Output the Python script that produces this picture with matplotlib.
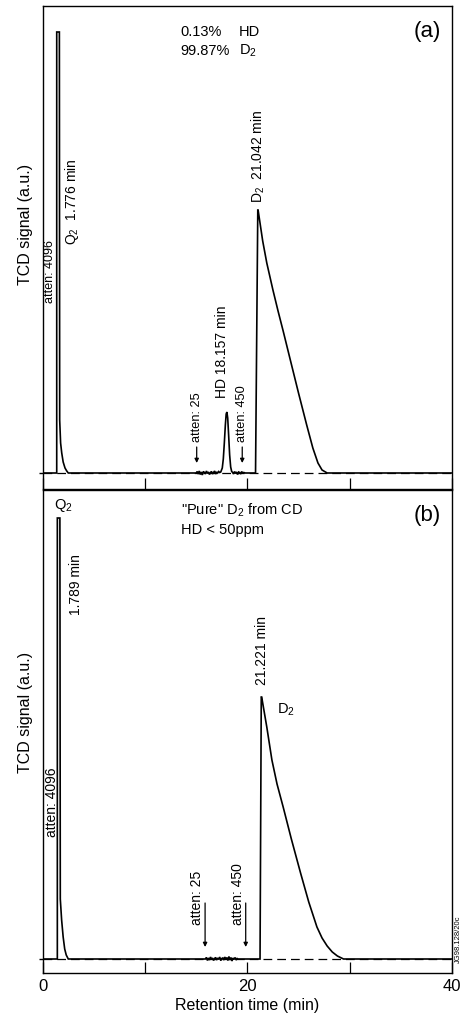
import matplotlib
matplotlib.use("Agg")
import matplotlib.pyplot as plt
import numpy as np

plt.rcParams['font.family'] = ['Liberation Sans', 'DejaVu Sans']
plt.rcParams['mathtext.fontset'] = 'custom'
plt.rcParams['mathtext.rm'] = 'Liberation Sans'
plt.rcParams['mathtext.it'] = 'Liberation Sans:italic'

# ---------------- data ----------------
# Panel (a): chromatogram trace, retention time (min) and TCD signal (a.u.)
A_Q2_T = [0.0, 1.37, 1.37, 1.63, 1.66, 1.75, 1.86, 2.00, 2.18, 2.35, 2.50]
A_Q2_S = [0.0, 0.0, 441, 441, 53, 30, 20, 11, 5, 2, 0.0]
A_NOISE1_T = [15.0, 15.1, 15.2, 15.3, 15.4, 15.5, 15.6, 15.7, 15.8, 15.9, 16.0, 16.1,
              16.2, 16.3, 16.4, 16.5, 16.6, 16.7, 16.8, 16.9, 17.0, 17.1, 17.2, 17.3]
A_NOISE1_S = [0.0, 1.5, -1.0, 2.0, -1.5, 1.0, -2.0, 1.5, 0.5, -1.0, 2.0, -0.5,
              1.0, -1.5, 0.5, 1.5, -1.0, 0.5, 2.0, -1.0, 1.0, 0.0, 1.5, 0.5]
A_HD_T = [17.40, 17.55, 17.65, 17.75, 17.85, 17.93, 18.00, 18.08, 18.17, 18.27, 18.37, 18.47, 18.57]
A_HD_S = [1.0, 5.0, 14.0, 30.0, 48.0, 59.0, 61.0, 55.0, 38.0, 18.0, 6.0, 1.5, 0.5]
A_NOISE2_T = [18.65, 18.75, 18.85, 18.95, 19.05, 19.15, 19.25, 19.35, 19.45, 19.55, 19.65, 19.8]
A_NOISE2_S = [-1.0, 1.5, -0.5, 1.0, -1.5, 1.0, 0.5, -1.0, 1.5, -0.5, 0.5, 0.0]
A_D2_T = [20.80, 21.02, 21.05, 21.50, 21.90, 22.50, 23.00, 23.50, 24.20, 25.00,
          25.80, 26.40, 26.90, 27.30, 27.80, 40.0]
A_D2_S = [0.0, 263, 263, 232, 210, 183, 162, 142, 113, 80,
          48, 25, 10, 3, 0.0, 0.0]

# Panel (b)
B_Q2_T = [0.0, 1.43, 1.43, 1.68, 1.72, 1.85, 2.00, 2.15, 2.30, 2.50]
B_Q2_S = [0.0, 0.0, 441, 441, 60, 39, 22, 10, 4, 0.0]
B_NOISE_T = [15.9, 16.0, 16.1, 16.2, 16.3, 16.4, 16.5, 16.6, 16.7, 16.8, 16.9, 17.0,
             17.1, 17.2, 17.3, 17.4, 17.5, 17.6, 17.7, 17.8, 17.9, 18.0, 18.1, 18.2,
             18.3, 18.4, 18.5, 18.6, 18.7, 18.8, 18.9, 19.0, 19.1]
B_NOISE_S = [0.0, 1.5, -1.5, 1.0, -1.0, 2.0, -0.5, 1.0, -1.5, 0.5, 1.5, -1.0,
             1.0, -0.5, 2.0, -1.5, 0.5, 1.0, -1.0, 2.0, -0.5, 1.5, -1.5, 2.5,
             -1.0, 1.5, -2.0, 1.0, -0.5, 1.5, -1.0, 0.5, 0.0]
B_D2_T = [21.24, 21.36, 21.40, 21.90, 22.40, 22.90, 23.50, 24.30, 25.20, 26.00, 26.80,
          27.30, 27.80, 28.30, 28.80, 29.40, 40.0]
B_D2_S = [0.0, 262, 262, 232, 199, 175, 152, 120, 86, 57, 32,
          21, 13, 7, 3, 0.0, 0.0]

X_TICKS = [0, 10, 20, 30, 40]
X_TICK_LABELS = ['0', '', '20', '', '40']

# ---------------- figure ----------------
W, H = 463, 1013
fig = plt.figure(figsize=(W / 100, H / 100), dpi=100)

left = 42.7 / W
width = (452.0 - 42.7) / W
axA = fig.add_axes([left, 1 - 489 / H, width, (489 - 6) / H])
axB = fig.add_axes([left, 1 - 973 / H, width, (973 - 490) / H])

lw = 1.2
for ax, ylim in ((axA, (-16, 467)), (axB, (-14, 469))):
    ax.set_xlim(0, 40)
    ax.set_ylim(*ylim)
    ax.axhline(0, color='black', lw=0.9, ls=(0, (7, 4)), zorder=1)
    ax.set_xticks(X_TICKS)
    ax.tick_params(axis='x', direction='in', length=8, width=0.9, pad=4,
                   labelsize=12, top=False)
    ax.set_yticks([0])
    ax.set_yticklabels([])
    ax.tick_params(axis='y', direction='out', length=3, width=1.0)
    for sp in ax.spines.values():
        sp.set_linewidth(1.0)
    ax.set_ylabel('TCD signal (a.u.)', fontsize=11.5)

axA.set_xticklabels([])
axB.set_xticklabels(X_TICK_LABELS)
axB.set_xlabel('Retention time (min)', fontsize=11.5, labelpad=3)
axA.yaxis.set_label_coords(-0.024, 0.547)
axB.yaxis.set_label_coords(-0.024, 0.54)

# traces
tA = A_Q2_T + A_NOISE1_T + A_HD_T + A_NOISE2_T + A_D2_T
sA = A_Q2_S + A_NOISE1_S + A_HD_S + A_NOISE2_S + A_D2_S
axA.plot(tA, sA, color='black', lw=lw, zorder=3, solid_joinstyle='miter')
tB = B_Q2_T + B_NOISE_T + B_D2_T
sB = B_Q2_S + B_NOISE_S + B_D2_S
axB.plot(tB, sB, color='black', lw=lw, zorder=3, solid_joinstyle='miter')

# ---------------- annotations (a) ----------------
fs = 10
axA.text(13.5, 437, '0.13%', fontsize=10.5, va='baseline')
axA.text(19.2, 437, 'HD', fontsize=10.5, va='baseline')
axA.text(13.5, 418, '99.87%', fontsize=10.5, va='baseline')
axA.text(19.2, 418, r'D$_{\mathregular{2}}$', fontsize=10.5, va='baseline')
axA.text(37.6, 436, '(a)', fontsize=16, ha='center', va='baseline')

axA.text(2.83, 228, r'Q$_{\mathregular{2}}$  1.776 min', rotation=90, fontsize=fs,
         ha='center', va='bottom')
axA.text(0.71, 170, 'atten: 4096', rotation=90, fontsize=9,
         family=['Liberation Sans Narrow', 'Liberation Sans'], ha='center', va='bottom')
axA.text(17.5, 75, 'HD 18.157 min', rotation=90, fontsize=fs, ha='center', va='bottom')
axA.text(21.05, 270, r'D$_{\mathregular{2}}$  21.042 min', rotation=90, fontsize=fs,
         ha='center', va='bottom')
for tx, lab in ((15.05, 'atten: 25'), (19.5, 'atten: 450')):
    axA.text(tx, 31, lab, rotation=90, fontsize=9.2,
             family=['Liberation Sans Narrow', 'Liberation Sans'], ha='center', va='bottom')
    axA.annotate('', xy=(tx, 10), xytext=(tx, 26),
                 arrowprops=dict(arrowstyle='-|>', lw=0.9, color='black',
                                 mutation_scale=6, shrinkA=0, shrinkB=0))

# ---------------- annotations (b) ----------------
axB.text(2.0, 450, r'Q$_{\mathregular{2}}$', fontsize=10.5, ha='center', va='baseline')
axB.text(13.5, 444, r'"Pure" D$_{\mathregular{2}}$ from CD', fontsize=10.5, va='baseline')
axB.text(13.5, 425, 'HD < 50ppm', fontsize=10.5, va='baseline')
axB.text(37.6, 438, '(b)', fontsize=16, ha='center', va='baseline')
axB.text(3.25, 344, '1.789 min', rotation=90, fontsize=fs, ha='center', va='bottom')
axB.text(21.4, 274, '21.221 min', rotation=90, fontsize=fs, ha='center', va='bottom')
axB.text(22.9, 249, r'D$_{\mathregular{2}}$', fontsize=10.5, ha='left', va='center')
axB.text(0.88, 122, 'atten: 4096', rotation=90, fontsize=10, ha='center', va='bottom')
for tx, ax_x, lab in ((15.08, 15.87, 'atten: 25'), (19.09, 19.84, 'atten: 450')):
    axB.text(tx, 34, lab, rotation=90, fontsize=10, ha='center', va='bottom')
    axB.annotate('', xy=(ax_x, 12), xytext=(ax_x, 56),
                 arrowprops=dict(arrowstyle='-|>', lw=0.9, color='black',
                                 mutation_scale=6, shrinkA=0, shrinkB=0))
axB.text(40.65, 20, 'JG98.128/20c', rotation=90, fontsize=5.5, ha='center', va='center',
         clip_on=False)

fig.savefig('out.png', dpi=100)
